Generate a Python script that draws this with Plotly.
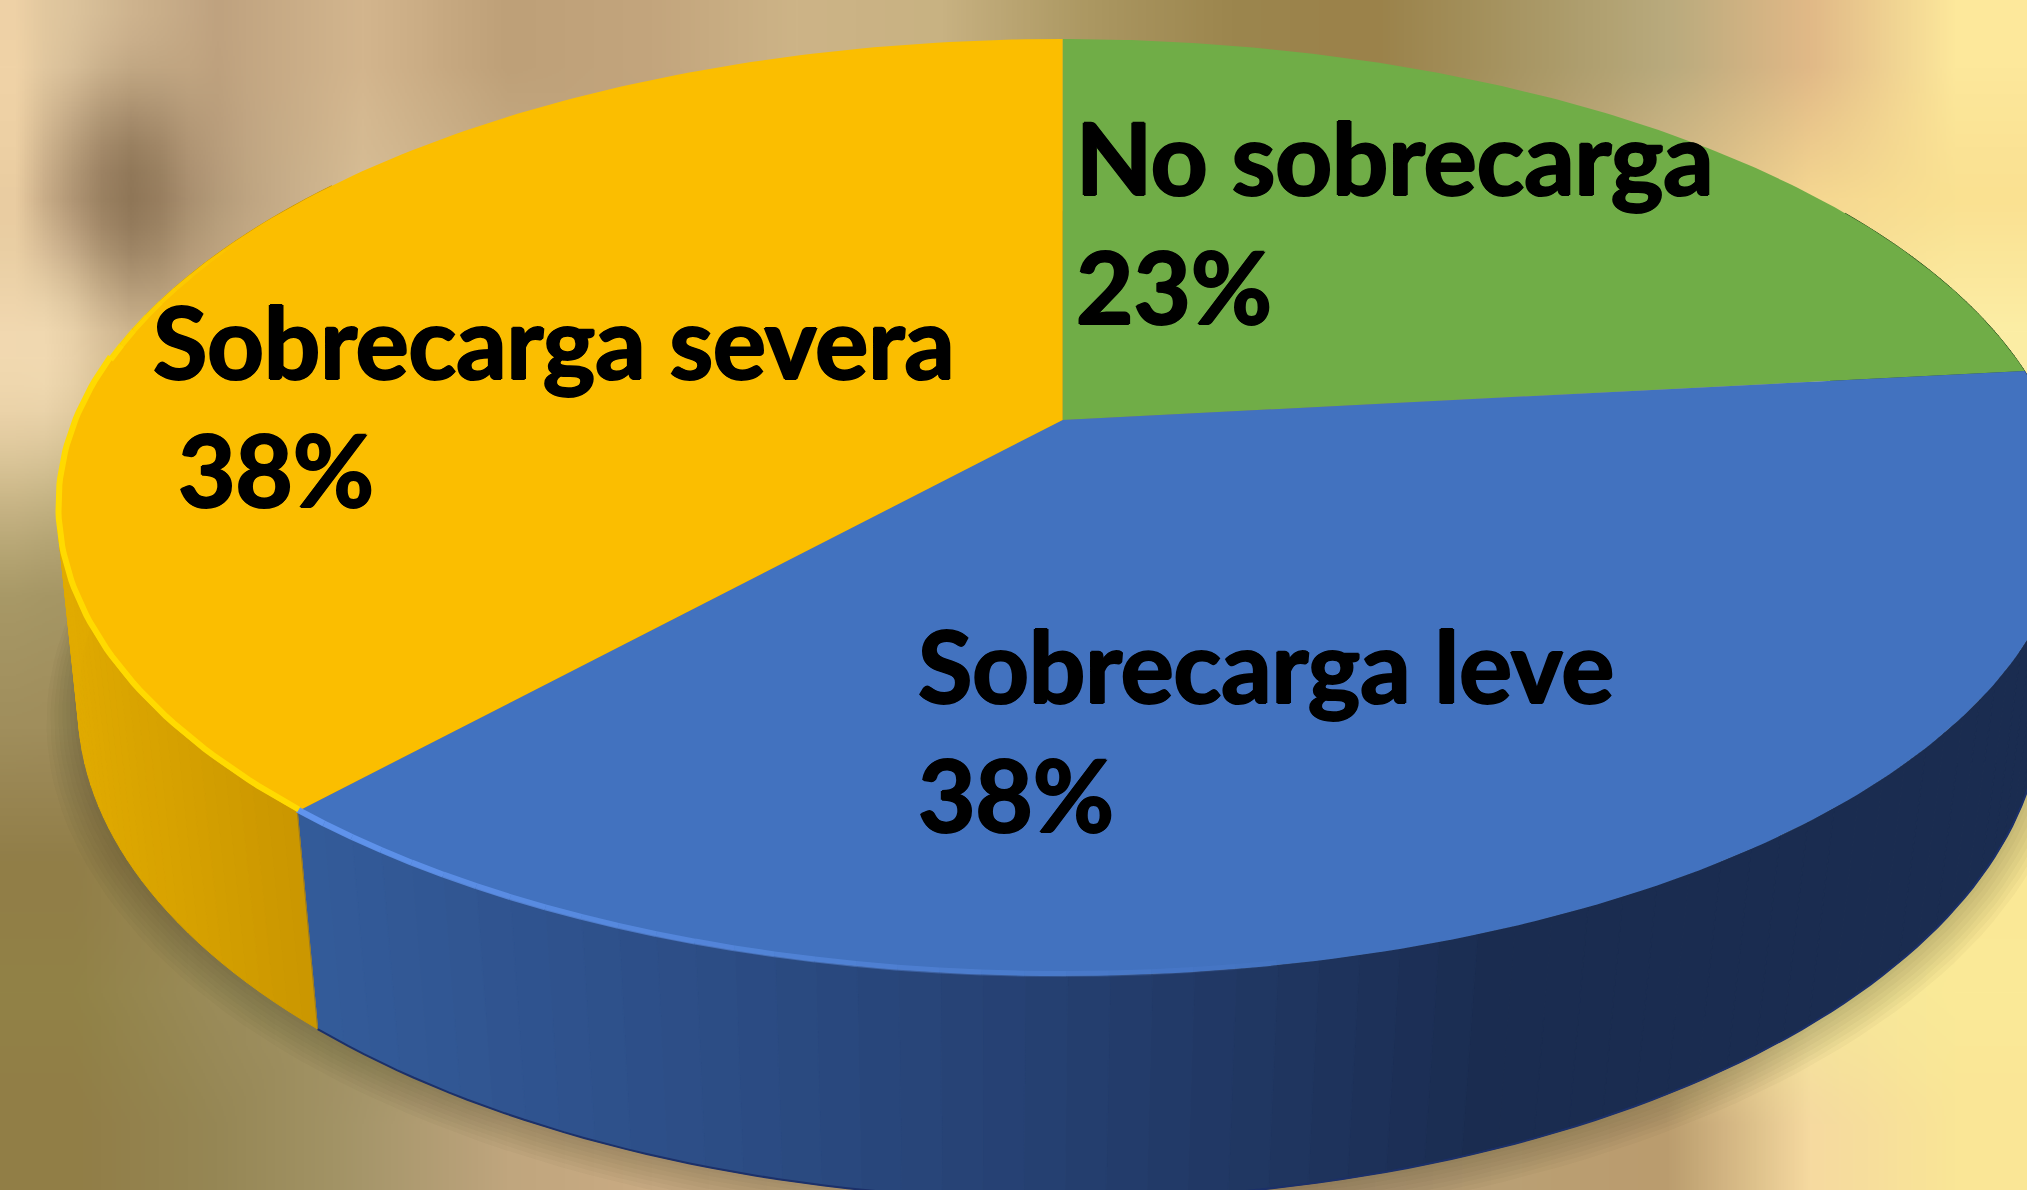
import base64, struct, zlib
import numpy as np
import plotly.graph_objects as go

# ---- data ----
categories = ["No sobrecarga", "Sobrecarga leve", "Sobrecarga severa"]
values = [23, 38, 38]
percent_labels = ["23%", "38%", "38%"]

# ---- style ----
top_colors = ["#70AD47", "#4272BF", "#FBBE00"]
W, H = 2027, 1190

# perspective projection of the unit disc (calibrated to the picture)
CX, CY, K, B, C = 1062.6, 420.0, 0.1868, -373.7, 988.0
BCX, BA, BK, BB, BC = 1060.0, 617.4, 0.177, -370.2, 966.5


def project(theta):
    X, Y = np.sin(theta), np.cos(theta)
    w = 1 + K * Y
    return CX + C * X / w, (CY + B * Y) / w


def project_bottom(theta):
    X, Y = np.sin(theta), np.cos(theta)
    w = 1 + BK * Y
    return BCX + BC * X / w, (BA + BB * Y) / w


def wall_rgb(i, x):
    if i == 0:
        return (50, 85, 35)
    if i == 1:
        xs, stops = [300, 700, 1100, 1500], [(52, 92, 155), (45, 78, 135), (36, 62, 110), (26, 44, 80)]
    else:
        xs, stops = [60, 300], [(226, 172, 0), (203, 151, 0)]
    return tuple(int(np.interp(x, xs, [s[c] for s in stops])) for c in range(3))


# blurred backdrop: coarse colour field, refined, with a few local blobs
bg = [
 [(222,197,158),(192,163,128),(212,182,142),(190,160,120),(195,165,125),(205,180,135),(200,178,130),(172,152,98),(156,134,78),(155,130,74),(168,150,100),(185,170,125),(225,185,135),(253,232,155)],
 [(190,162,128),(186,160,126),(215,190,150),(200,175,135),(190,165,125),(190,165,120),(180,160,110),(165,145,90),(160,140,85),(160,140,85),(180,160,110),(215,188,135),(245,215,145),(250,225,145)],
 [(222,197,157),(205,180,140),(200,175,135),(190,165,125),(190,165,125),(190,165,120),(180,160,110),(170,150,100),(170,150,100),(180,160,110),(200,180,130),(230,210,150),(250,230,155),(252,238,165)],
 [(195,178,130),(180,160,115),(180,160,115),(180,160,115),(180,160,115),(180,160,115),(180,160,115),(180,160,115),(180,160,115),(180,160,115),(200,180,130),(230,210,150),(250,235,160),(251,236,160)],
 [(165,150,100),(165,150,100),(170,150,105),(170,150,105),(170,150,105),(170,150,105),(170,150,105),(170,150,105),(170,150,105),(180,160,110),(200,180,130),(230,215,150),(250,235,160),(251,236,160)],
 [(160,142,92),(160,142,95),(165,148,100),(165,148,100),(165,148,100),(165,148,100),(165,148,100),(165,148,100),(170,150,105),(180,160,110),(205,185,130),(232,220,150),(248,232,155),(251,236,158)],
 [(145,126,72),(158,138,88),(160,142,95),(160,140,100),(165,145,105),(165,145,105),(170,150,105),(175,155,110),(180,160,115),(190,170,120),(210,190,135),(232,222,148),(240,228,150),(250,232,150)],
 [(145,130,70),(155,140,90),(162,148,102),(172,150,110),(190,160,120),(195,165,125),(195,165,125),(190,165,120),(185,160,115),(185,160,115),(200,178,125),(215,195,135),(245,232,155),(251,234,152)],
 [(145,126,70),(150,135,85),(166,150,106),(192,166,126),(202,172,132),(205,175,135),(205,175,135),(195,165,125),(178,148,112),(182,156,120),(186,160,116),(186,156,110),(246,218,160),(250,230,150)],
]
bg_blobs = [
    (130, 195, 42, 75, (140, 115, 85), 0.95),
    (8, 130, 22, 190, (246, 216, 170), 0.85),
    (36, 364, 45, 75, (246, 222, 182), 0.85),
]


def refine(rows, factor=5):
    a = np.array(rows, dtype=float)
    h, w = a.shape[:2]
    ny, nx = h * factor, w * factor
    gx = (np.arange(nx) + 0.5) / factor - 0.5
    gy = (np.arange(ny) + 0.5) / factor - 0.5
    tmp = np.stack([np.stack([np.interp(gx, np.arange(w), a[r, :, c]) for c in range(3)], -1) for r in range(h)])
    out = np.stack([np.stack([np.interp(gy, np.arange(h), tmp[:, q, c]) for c in range(3)], -1) for q in range(nx)], 1)
    px = (np.arange(nx) + 0.5) * W / nx
    py = (np.arange(ny) + 0.5) * H / ny
    XX, YY = np.meshgrid(px, py)
    for bx0, by0, sx, sy, rgb, strength in bg_blobs:
        m = strength * np.exp(-((XX - bx0) / sx) ** 2 / 2 - ((YY - by0) / sy) ** 2 / 2)
        out = out * (1 - m[..., None]) + np.array(rgb, dtype=float) * m[..., None]
    return np.clip(out, 0, 255).astype(np.uint8)


def png_uri(arr):
    h, w = arr.shape[:2]
    raw = b"".join(b"\x00" + arr[r].tobytes() for r in range(h))

    def chunk(tag, data):
        return struct.pack(">I", len(data)) + tag + data + struct.pack(">I", zlib.crc32(tag + data))

    png = (b"\x89PNG\r\n\x1a\n" + chunk(b"IHDR", struct.pack(">IIBBBBB", w, h, 8, 2, 0, 0, 0))
           + chunk(b"IDAT", zlib.compress(raw)) + chunk(b"IEND", b""))
    return "data:image/png;base64," + base64.b64encode(png).decode()


fig = go.Figure()


def poly(x, y, fill, line=None, width=1):
    fig.add_trace(go.Scatter(x=x, y=y, mode="lines", fill="toself", fillcolor=fill,
                             line=dict(color=line or fill, width=width if line else 0),
                             hoverinfo="skip", showlegend=False))


# soft shadow under the pie
t_all = np.linspace(0, 2 * np.pi, 240)
bx, by = project_bottom(t_all)
for i in range(8, 0, -1):
    s = 1 + 0.004 * i
    poly(BCX + s * (bx - BCX), (by.mean() + s * (by - by.mean())) + 2 * i, "rgba(70,60,25,0.035)")

# slice boundaries from the values
fractions = np.array(values, dtype=float) / sum(values)
edges = np.concatenate([[0], np.cumsum(fractions)]) * 2 * np.pi
WALL_FROM, WALL_TO = np.radians(60), np.radians(305)

# side walls, as thin strips shaded left to right
for i in range(len(values)):
    lo, hi = max(edges[i], WALL_FROM), min(edges[i + 1], WALL_TO)
    if hi <= lo:
        continue
    steps = np.linspace(lo, hi, 70)
    for a, b in zip(steps[:-1], steps[1:]):
        x1, y1 = project(np.array([a, b]))
        x2, y2 = project_bottom(np.array([b, a]))
        r, g, bl = wall_rgb(i, (x1.mean() + x2.mean()) / 2)
        col = f"rgb({r},{g},{bl})"
        poly(list(x1) + list(x2) + [x1[0]], list(y1) + list(y2) + [y1[0]], col, col, 1)

# thin dark outline along the bottom edge and the seam
tb = np.linspace(edges[1], edges[2], 120)
xb, yb = project_bottom(tb)
fig.add_trace(go.Scatter(x=xb, y=yb, mode="lines", line=dict(color="rgb(28,48,105)", width=2),
                         hoverinfo="skip", showlegend=False))
sx0, sy0 = project(edges[2])
sx1, sy1 = project_bottom(edges[2])
fig.add_trace(go.Scatter(x=[sx0, sx1], y=[sy0, sy1], mode="lines", line=dict(color="rgb(150,120,40)", width=1),
                         hoverinfo="skip", showlegend=False))

# top face
for i, name in enumerate(categories):
    t = np.linspace(edges[i], edges[i + 1], 160)
    x, y = project(t)
    poly([CX] + list(x) + [CX], [CY] + list(y) + [CY], top_colors[i])
    fig.data[-1].name = name

# bevel highlights along the front rim
for n in range(26):
    a, b = edges[2] - np.radians(2 * (n + 1)), edges[2] - np.radians(2 * n)
    x, y = project(np.array([a, b]))
    fig.add_trace(go.Scatter(x=x, y=y - 2, mode="lines",
                             line=dict(color=f"rgba(98,150,240,{0.95 - n * 0.035:.2f})", width=6),
                             hoverinfo="skip", showlegend=False))
t = np.linspace(edges[2], np.radians(278), 70)
x, y = project(t)
fig.add_trace(go.Scatter(x=x + 1.5, y=y - 2, mode="lines", line=dict(color="rgb(255,218,0)", width=6),
                         hoverinfo="skip", showlegend=False))
for n in range(9):
    x, y = project(np.radians(np.array([278 + 2 * n, 280 + 2 * n])))
    fig.add_trace(go.Scatter(x=x + 1.5, y=y + 1, mode="lines",
                             line=dict(color=f"rgba(255,218,0,{0.9 - n * 0.1:.2f})", width=6 - n * 0.4),
                             hoverinfo="skip", showlegend=False))

# labels
FONT = dict(family="Lato", size=99, color="black", weight="bold",
            shadow="1.2px 0 0 black, -1.2px 0 0 black, 0 1px 0 black, 0 -1px 0 black")
label_pos = [((1075, 156), (1075, 285)), ((917, 664), (917, 793)), ((152, 340), (177, 468))]
for name, pct, (p1, p2) in zip(categories, percent_labels, label_pos):
    for text, (x, y) in ((name, p1), (pct, p2)):
        fig.add_annotation(x=x, y=y, text=text, showarrow=False, xanchor="left", yanchor="middle",
                           font=FONT, borderpad=0)

fig.update_layout(
    width=W, height=H, margin=dict(l=0, r=0, t=0, b=0), showlegend=False,
    paper_bgcolor="white", plot_bgcolor="rgba(0,0,0,0)",
    xaxis=dict(range=[0, W], visible=False, fixedrange=True),
    yaxis=dict(range=[H, 0], visible=False, fixedrange=True),
    images=[dict(source=png_uri(refine(bg)), xref="x", yref="y", x=0, y=0, sizex=W, sizey=H,
                 sizing="stretch", layer="below")],
)
fig.write_html("out.html", config=dict(displayModeBar=False),
               post_script="document.body.style.margin='0';document.body.style.overflow='hidden';")
